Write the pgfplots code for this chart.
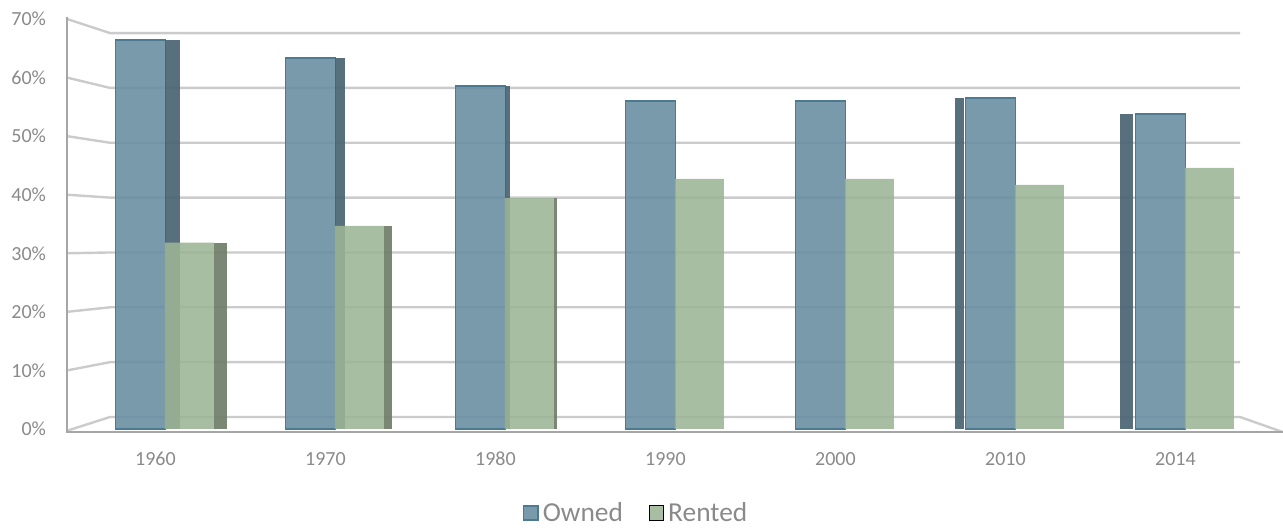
\documentclass[border=0pt]{standalone}
\usepackage{pgfplots}
\pgfplotsset{compat=1.18}
\usepackage{pgfplotstable}
\usepackage{fontspec}
\setmainfont{Carlito}

\definecolor{ownfill}{HTML}{6A8FA2}
\definecolor{ownedge}{HTML}{4C7B91}
\definecolor{ownside}{HTML}{4A6473}
\definecolor{rentfill}{HTML}{9CB596}
\definecolor{rentside}{HTML}{6F7D69}
\definecolor{gridc}{HTML}{CBCBCB}
\definecolor{axisc}{HTML}{A6A6A6}
\definecolor{txt}{HTML}{8A8A8A}

% share of housing units by tenure, in percent
\pgfplotstableread{
x year owned rented
0 1960 66.4 31.8
1 1970 63.3 34.7
2 1980 58.6 39.4
3 1990 56.0 42.7
4 2000 56.0 42.7
5 2010 56.5 41.7
6 2014 53.8 44.6
}\tenure

\begin{document}
\begin{tikzpicture}
\path[use as bounding box] (0,0) rectangle (641.5pt,264.5pt);
\begin{axis}[
  at={(33.5pt,50pt)}, anchor=south west,
  scale only axis, width=607.75pt, height=205pt,
  xmin=-0.52, xmax=6.63, ymin=0, ymax=70,
  clip=false,
  axis line style={draw=none},
  major tick length=0pt,
  /pgf/number format/assume math mode=true,
  xtick={0,...,6},
  xticklabels={\textrm{1960},\textrm{1970},\textrm{1980},\textrm{1990},\textrm{2000},\textrm{2010},\textrm{2014}},
  ytick={0,10,...,70},
  yticklabel={\pgfmathprintnumber{\tick}\%},
  ticklabel style={font=\fontsize{10}{12}\selectfont, text=txt},
  yticklabel style={anchor=east, xshift=-7pt},
  xticklabel style={yshift=-8pt},
  legend style={at={(0.469,-0.205)}, anchor=center, legend columns=2,
    draw=none, fill=none, font=\fontsize{13.7}{16}\selectfont,
    text=txt, /tikz/every even column/.append style={column sep=11pt}},
  legend image code/.code={\draw[#1] (0pt,-3.6pt) rectangle (7.2pt,3.6pt);},
]
% walls: left wall slants and back-wall gridlines
\pgfplotsinvokeforeach{1,...,7}{
  \draw[gridc, line width=1.2pt] (axis cs:-0.52,{10*#1}) -- (axis cs:-0.267,{2.05+9.364*#1}) -- (axis cs:6.38,{2.05+9.364*#1});
}
\draw[gridc, line width=1.2pt] (axis cs:-0.52,-0.3) -- (axis cs:-0.267,2.05) -- (axis cs:6.38,2.05) -- (axis cs:6.63,-0.51);
% front axis lines
\draw[axisc, line width=1.3pt] (axis cs:-0.52,70.3) -- (axis cs:-0.52,-0.51) -- (axis cs:6.63,-0.51);

% owned: left side faces (right-hand columns)
\addplot[ybar, bar width=4.5pt, bar shift=-22.75pt, fill=ownside, draw=none, fill opacity=0.92, forget plot] coordinates {(5,56.5)};
\addplot[ybar, bar width=6.5pt, bar shift=-24.25pt, fill=ownside, draw=none, fill opacity=0.92, forget plot] coordinates {(6,53.8)};
% owned: front faces
\addplot[ybar, bar width=25pt, bar shift=-7.5pt, fill=ownfill, draw=ownedge, line width=0.8pt, fill opacity=0.9]
  table[x=x, y=owned] {\tenure};
\addlegendentry{Owned}
% owned: right side faces (left-hand columns)
\addplot[ybar, bar width=7.5pt, bar shift=8.75pt, fill=ownside, draw=none, fill opacity=0.92, forget plot] coordinates {(0,66.4)};
\addplot[ybar, bar width=5pt, bar shift=7.5pt, fill=ownside, draw=none, fill opacity=0.92, forget plot] coordinates {(1,63.3)};
\addplot[ybar, bar width=2.5pt, bar shift=6.25pt, fill=ownside, draw=none, fill opacity=0.92, forget plot] coordinates {(2,58.6)};
% rented: front faces
\addplot[ybar, bar width=24.5pt, bar shift=17pt, fill=rentfill, draw=none, fill opacity=0.88]
  table[x=x, y=rented] {\tenure};
\addlegendentry{Rented}
% rented: right side faces
\addplot[ybar, bar width=6.5pt, bar shift=32.5pt, fill=rentside, draw=none, fill opacity=0.92, forget plot] coordinates {(0,31.8)};
\addplot[ybar, bar width=4pt, bar shift=31.25pt, fill=rentside, draw=none, fill opacity=0.92, forget plot] coordinates {(1,34.7)};
\addplot[ybar, bar width=1.5pt, bar shift=30pt, fill=rentside, draw=none, fill opacity=0.92, forget plot] coordinates {(2,39.4)};
\end{axis}
\end{tikzpicture}
\end{document}
